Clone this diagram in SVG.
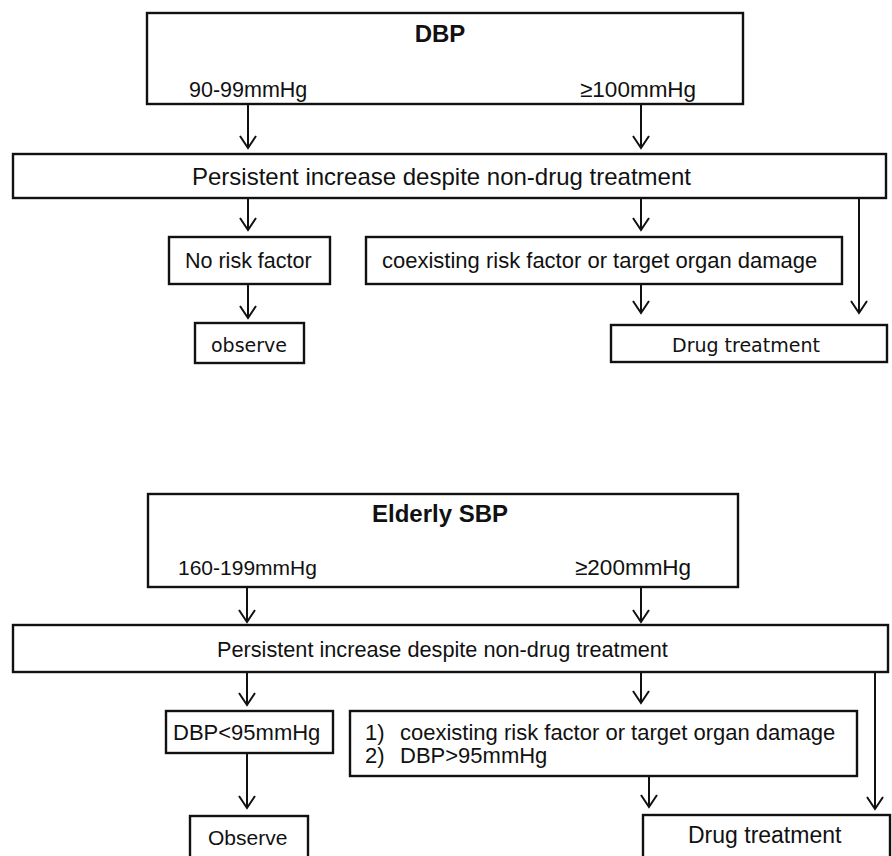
<svg xmlns="http://www.w3.org/2000/svg" width="892" height="856" viewBox="0 0 892 856">
<defs>
<marker id="arr" markerUnits="userSpaceOnUse" viewBox="-15 -10 17 20" refX="0" refY="0" markerWidth="17" markerHeight="20" orient="auto">
<path d="M-12,-8 L0,0 L-12,8" fill="none" stroke="#111" stroke-width="2"/>
</marker>
</defs>
<style>
.box{fill:#fff;stroke:#111;stroke-width:2.4}
.t{font-family:"Liberation Sans",Arial,sans-serif;fill:#111}
.b{font-weight:bold}
.v{font-family:"DejaVu Sans",Verdana,sans-serif;fill:#111}
.c line{stroke:#111;stroke-width:2;marker-end:url(#arr)}
</style>
<rect width="892" height="856" fill="#fff"/>
<g id="dbp">
<rect class="box" x="147" y="13" width="596" height="91"/>
<text class="t b" x="440" y="42" font-size="24" text-anchor="middle">DBP</text>
<text class="t" x="189" y="97" font-size="21.5">90-99mmHg</text>
<text class="t" x="580" y="97" font-size="22.5">≥100mmHg</text>
</g>
<g id="persist1">
<rect class="box" x="13" y="154" width="873" height="44"/>
<text class="t" x="192" y="185" font-size="24">Persistent increase despite non-drug treatment</text>
</g>
<g id="norisk">
<rect class="box" x="169" y="237" width="161" height="47"/>
<text class="t" x="185" y="268" font-size="21.5">No risk factor</text>
</g>
<g id="coexist1">
<rect class="box" x="366" y="237" width="476" height="47"/>
<text class="t" x="382" y="268" font-size="22">coexisting risk factor or target organ damage</text>
</g>
<g id="observe1">
<rect class="box" x="195" y="323" width="109" height="40"/>
<text class="v" x="211" y="352" font-size="19">observe</text>
</g>
<g id="drug1">
<rect class="box" x="611" y="325" width="276" height="37"/>
<text class="v" x="672" y="352" font-size="19">Drug treatment</text>
</g>
<g id="elderly">
<rect class="box" x="148" y="494" width="590" height="93"/>
<text class="t b" x="440" y="522" font-size="24" text-anchor="middle">Elderly SBP</text>
<text class="t" x="178" y="575" font-size="21">160-199mmHg</text>
<text class="t" x="575" y="575" font-size="22.5">≥200mmHg</text>
</g>
<g id="persist2">
<rect class="box" x="13" y="625" width="875" height="47"/>
<text class="t" x="217" y="657" font-size="21.7">Persistent increase despite non-drug treatment</text>
</g>
<g id="dbp95">
<rect class="box" x="166" y="711" width="167" height="42"/>
<text class="t" x="173" y="740" font-size="22">DBP&lt;95mmHg</text>
</g>
<g id="coexist2">
<rect class="box" x="350" y="711" width="507" height="65"/>
<text class="t" x="365" y="740" font-size="22">1)</text>
<text class="t" x="400" y="740" font-size="22">coexisting risk factor or target organ damage</text>
<text class="t" x="365" y="763" font-size="22">2)</text>
<text class="t" x="400" y="763" font-size="22">DBP&gt;95mmHg</text>
</g>
<g id="observe2">
<rect class="box" x="190" y="816" width="118" height="50"/>
<text class="t" x="208" y="845" font-size="21">Observe</text>
</g>
<g id="drug2">
<rect class="box" x="643" y="815" width="247" height="50"/>
<text class="t" x="688" y="843" font-size="23">Drug treatment</text>
</g>
<g id="connectors" class="c">
<line x1="248" y1="104" x2="248" y2="148"/>
<line x1="641" y1="104" x2="641" y2="148"/>
<line x1="248" y1="198" x2="248" y2="230"/>
<line x1="641" y1="198" x2="641" y2="230"/>
<line x1="859" y1="198" x2="859" y2="313"/>
<line x1="248" y1="284" x2="248" y2="318"/>
<line x1="641" y1="284" x2="641" y2="313"/>
<line x1="247" y1="587" x2="247" y2="622"/>
<line x1="641" y1="587" x2="641" y2="622"/>
<line x1="247" y1="672" x2="247" y2="705"/>
<line x1="641" y1="672" x2="641" y2="703"/>
<line x1="875" y1="672" x2="875" y2="809"/>
<line x1="247" y1="753" x2="247" y2="808"/>
<line x1="649" y1="776" x2="649" y2="807"/>
</g>
</svg>
